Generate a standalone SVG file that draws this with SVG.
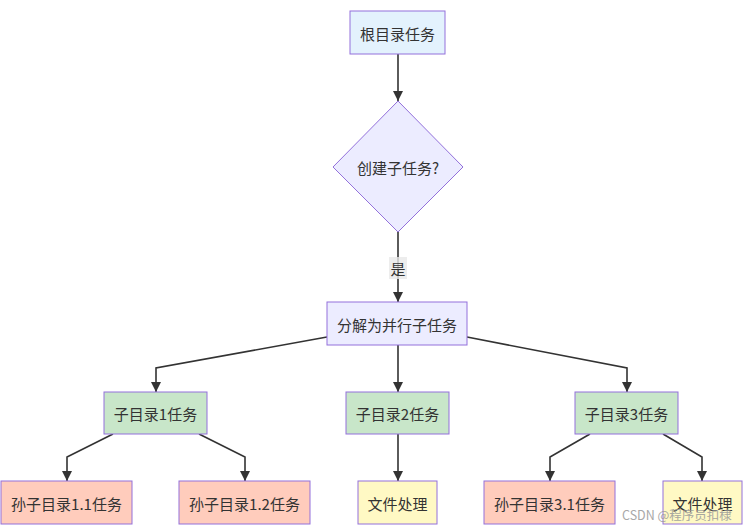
<svg xmlns="http://www.w3.org/2000/svg" width="747" height="528" viewBox="0 0 747 528">
<defs>
<marker id="arr" viewBox="0 0 10 10" refX="10" refY="5" markerWidth="10" markerHeight="10" markerUnits="userSpaceOnUse" orient="auto">
<path d="M0,0 L10,5 L0,10 z" fill="#333"/>
</marker>
</defs>
<style>
.n{stroke:#9370db;stroke-width:1}
.t{font-family:"Noto Sans CJK SC","Noto Sans",sans-serif;font-size:15px;fill:#333;text-anchor:middle;dominant-baseline:central}
.e{fill:none;stroke:#333;stroke-width:1.6;marker-end:url(#arr)}
.blue{fill:#e3f2fd}
.lav{fill:#ececff}
.green{fill:#c8e6c9}
.red{fill:#ffccbc}
.yel{fill:#fff9c4}
</style>
<rect width="747" height="528" fill="#fff"/>
<g id="edges">
<path class="e" d="M398,54 L398,101"/>
<path class="e" d="M398,232 L398,302"/>
<path class="e" d="M327,337 L156,368 L156,392"/>
<path class="e" d="M398,345 L398,392"/>
<path class="e" d="M467,337 L627,368 L627,392"/>
<path class="e" d="M113,434 L67,457 L67,481"/>
<path class="e" d="M199,434 L245,457 L245,481"/>
<path class="e" d="M398,434 L398,481"/>
<path class="e" d="M590,434 L550,457 L550,481"/>
<path class="e" d="M663,434 L702,457 L702,481"/>
<g id="label-yes">
<rect x="389" y="257" width="18" height="22" fill="#e8e8e8" opacity="0.8"/>
<text class="t" x="398" y="268">是</text>
</g>
</g>
<g id="root"><rect class="n blue" x="350" y="11" width="95" height="43"/><text class="t" x="397.5" y="33">根目录任务</text></g>
<g id="decide"><polygon class="n lav" points="398,101 463,167 398,232 333,167"/><text class="t" x="398" y="167">创建子任务?</text></g>
<g id="split"><rect class="n lav" x="327" y="302" width="140" height="43"/><text class="t" x="397" y="324">分解为并行子任务</text></g>
<g id="c1"><rect class="n green" x="104" y="392" width="103" height="42"/><text class="t" x="155.5" y="413">子目录1任务</text></g>
<g id="c2"><rect class="n green" x="346" y="392" width="103" height="42"/><text class="t" x="397.5" y="413">子目录2任务</text></g>
<g id="c3"><rect class="n green" x="575" y="392" width="103" height="42"/><text class="t" x="626.5" y="413">子目录3任务</text></g>
<g id="g11"><rect class="n red" x="1" y="481" width="131" height="43"/><text class="t" x="66.5" y="503">孙子目录1.1任务</text></g>
<g id="g12"><rect class="n red" x="179" y="481" width="131" height="43"/><text class="t" x="244.5" y="503">孙子目录1.2任务</text></g>
<g id="f2"><rect class="n yel" x="358" y="481" width="79" height="43"/><text class="t" x="397.5" y="503">文件处理</text></g>
<g id="g31"><rect class="n red" x="484" y="481" width="131" height="43"/><text class="t" x="549.5" y="503">孙子目录3.1任务</text></g>
<g id="f3"><rect class="n yel" x="663" y="481" width="79" height="43"/><text class="t" x="702.5" y="503">文件处理</text></g>
<text x="622" y="520" style="font-family:'Noto Sans CJK SC','Noto Sans',sans-serif;font-size:12.5px;fill:#999;opacity:0.85">CSDN @程序员扣棣</text>
</svg>
